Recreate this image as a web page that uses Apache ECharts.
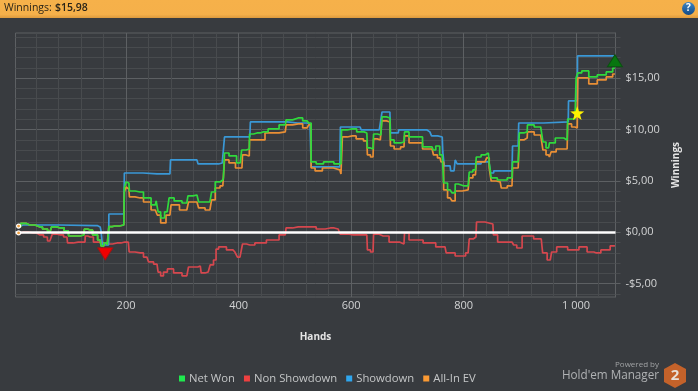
<!DOCTYPE html>
<html><head><meta charset="utf-8">
<style>html,body{margin:0;padding:0;background:#383b3f}#c{width:698px;height:391px}</style>
<script src="https://cdn.jsdelivr.net/npm/echarts@6/dist/echarts.min.js"></script>
</head><body><div id="c"></div>
<script>
const titleLabel = 'Winnings:';
const titleValue = '$15,98';
const seriesNames = ['Net Won','Non Showdown','Showdown','All-In EV'];
const startHands = [8,17,29,47,56,65,70,83,97,99,118,125,127,136,145,154,157,164,169,170,180,196];
const startValues = [0.52,0.86,0.71,0.52,0.32,0.08,0.52,0.42,0.13,-0.36,-0.36,-0.26,0.32,0.22,-0.26,-0.75,-1.33,-1.04,-1.24,0.55,0.61,0.71];
const netHands = [198,202,205,207,225,237,252,255,259,264,273,280,291,308,312,326,332,349,355,362,372,374,376,390,403,408,419,420,433,444,461,483,486,506,522,527,531,545,557,582,584,602,618,628,630,639,641,653,657,669,671,682,694,696,710,744,748,753,762,767,776,783,787,794,808,812,821,824,838,844,847,851,869,886,888,897,901,913,914,937,940,942,951,954,972,984,986,998,1002,1004,1016,1029,1046,1061,1069];
const netValues = [4.31,4.9,4.8,4.02,3.92,3.34,2.66,3.05,1.98,1.39,1.98,3.34,3.05,2.85,3.54,3.63,2.95,2.95,3.92,4.9,5.09,5.29,7.72,7.43,6.75,8.01,8.11,9.57,9.67,9.77,10.06,10.45,10.94,11.13,10.84,10.64,6.85,6.65,6.85,6.65,9.96,10.06,9.77,9.67,8.21,8.11,9.57,9.47,11.23,11.13,8.99,8.7,8.79,9.77,9.28,8.31,8.01,8.4,7.53,4.8,4.12,3.83,4.7,4.51,4.51,5.87,6.07,7.33,7.53,7.72,6.75,5.29,5.09,5.29,6.85,6.85,9.67,9.77,10.45,10.25,10.25,8.79,8.21,8.7,9.18,8.99,11.03,11.03,15.03,15.51,15.71,15.12,15.32,15.61,15.98];
const evHands = [198,202,205,207,225,237,252,259,264,278,282,308,314,326,332,349,355,362,372,374,376,390,399,406,408,419,420,433,461,483,486,506,522,527,531,541,557,580,584,585,602,616,628,630,639,641,652,657,669,671,682,694,696,710,744,749,758,762,767,776,783,787,808,812,821,824,838,844,847,851,865,869,886,888,897,901,913,914,937,940,942,951,954,957,972,984,986,998,1002,1004,1016,1029,1046,1061,1069];
const evValues = [3.92,4.41,4.22,3.44,3.34,2.95,2.17,1.68,0.91,1.68,2.66,2.17,2.95,2.95,2.37,2.17,3.15,4.31,4.51,4.51,7.04,6.75,6.26,6.26,7.53,7.43,8.99,8.99,9.67,9.77,10.45,10.55,10.16,10.45,6.26,5.97,6.26,6.07,5.68,9.28,9.38,9.09,8.89,7.53,7.33,9.09,8.99,10.84,10.74,8.4,8.11,8.31,9.38,8.7,8.11,7.53,7.24,6.85,4.12,3.34,3.05,4.02,4.12,5.29,5.58,6.85,6.85,7.24,6.26,4.99,4.9,4.31,4.51,6.26,6.26,8.99,9.18,9.77,9.47,9.47,8.01,7.53,7.33,7.82,8.11,8.11,10.55,10.25,10.16,15.03,15.03,14.44,14.83,15.12,15.41];
const showHands = [8,17,145,154,157,159,169,170,196,198,230,232,278,280,326,330,358,371,374,376,420,422,486,488,522,527,531,580,582,616,620,650,653,657,669,671,684,685,735,740,746,762,764,767,776,778,783,787,790,824,838,845,851,856,886,888,897,899,986,987,1002,1003,1069];
const showValues = [0.61,0.71,0.64,0.52,0.13,-1.24,-1.24,1.78,1.78,5.77,5.77,5.68,5.68,7.04,7.04,6.65,6.65,6.75,6.75,9.28,9.28,10.74,10.74,10.64,10.64,10.55,6.36,6.36,10.25,10.25,9.96,9.96,10.45,11.71,11.71,9.67,9.67,9.96,9.96,9.77,9.38,9.28,7.82,6.46,6.46,5.97,5.97,7.04,6.65,6.65,6.85,6.85,5.77,5.97,5.97,8.4,8.4,10.64,10.74,12.79,12.79,17.17,17.17];
const nonHands = [8,18,35,47,60,61,68,70,83,95,97,115,127,128,136,148,163,168,184,198,204,207,225,237,243,255,259,264,269,278,291,308,314,323,332,335,346,353,358,362,367,390,397,399,406,408,420,438,461,483,486,506,531,545,563,577,584,604,628,630,639,641,657,678,694,696,710,746,755,767,771,799,808,812,822,824,852,854,867,886,892,897,911,938,943,954,959,972,998,1012,1027,1036,1052,1069];
const nonValues = [-0.07,0.03,-0.07,-0.26,-0.46,-0.85,-0.75,-0.17,-0.26,-0.46,-1.04,-0.95,-0.95,-0.36,-0.46,-0.95,-1.04,-1.14,-1.04,-0.95,-0.95,-1.92,-2.01,-2.41,-2.89,-3.09,-3.87,-4.25,-3.87,-3.57,-3.96,-4.25,-3.38,-3.38,-3.28,-3.96,-3.87,-3.18,-2.7,-1.63,-1.43,-1.72,-1.92,-2.41,-2.41,-1.14,-1.24,-1.04,-0.75,-0.26,0.42,0.52,0.52,0.32,0.42,0.32,-0.17,-0.26,-0.26,-1.72,-1.92,-0.17,-0.36,-0.95,-1.14,-0.07,-0.75,-1.04,-1.43,-1.43,-2.01,-2.31,-2.01,-0.65,-0.46,1.0,0.81,-0.26,-0.95,-0.95,-1.24,-1.53,-0.36,-0.65,-2.01,-2.7,-1.92,-1.43,-1.72,-1.43,-1.92,-2.01,-1.72,-1.33];
const xMajor = [200,400,600,800,1000];
const xMinor = [40,80,120,160,240,280,320,360,440,480,520,560,640,680,720,760,840,880,920,960,1040];
const yMajor = [-5,0,5,10,15];
const yMinor = [-6,-4,-3,-2,-1,1,2,3,4,6,7,8,9,11,12,13,14,16,17,18,19];
const xTickLabels = {200:'200',400:'400',600:'600',800:'800',1000:'1 000'};
const yTickLabels = {'-5':'-$5,00',0:'$0,00',5:'$5,00',10:'$10,00',15:'$15,00'};
const worstPoint = [163,-2.1], bestPoint = [1069,16.7], starPoint = [1002,11.6];

const zip = (a,b)=>a.map((v,i)=>[v,b[i]]);
const font = 'Open Sans';
const colors = {g:'#2fd93c',r:'#d6474e',b:'#3a98d6',o:'#e98f35'};
const legendIcon = {'Net Won':'#1fe84e','Non Showdown':'#ee4040','Showdown':'#2fa6ee','All-In EV':'#fb9a33'};
const X_MIN=3.5,X_MAX=1070,Y_MIN=-6.3,Y_MAX=19.4;
const MAJOR='#5d6063',MINOR='#484b4e';

function line(name,hands,values,color,z,extra){
  return Object.assign({name,type:'line',data:zip(hands,values),symbol:'none',z,silent:true,step:'middle',
    lineStyle:{color,width:1.7},itemStyle:{color:legendIcon[name]}},extra||{});
}
const chart = echarts.init(document.getElementById('c'),null,{renderer:'canvas'});
chart.setOption({
  animation:false,
  backgroundColor:'#383b3f',
  textStyle:{fontFamily:font},
  grid:{show:true,left:15.5,top:33,width:600,height:264,borderColor:MAJOR,borderWidth:1,backgroundColor:'transparent'},
  legend:{data:seriesNames,left:174,top:368,itemWidth:6,itemHeight:6,itemGap:9,icon:'rect',
    textStyle:{color:'#c4c6c7',fontSize:11.3,fontFamily:font,padding:[0,0,0,-1]},selectedMode:false},
  xAxis:[
   {type:'value',min:X_MIN,max:X_MAX,name:'Hands',nameLocation:'middle',nameGap:35,
    nameTextStyle:{color:'#e4e4e4',fontSize:10,fontWeight:'bold',fontFamily:font},
    axisLine:{show:false,onZero:false},axisTick:{show:false,customValues:xMajor},
    axisLabel:{color:'#d2d3d4',fontSize:11,margin:3,customValues:xMajor,formatter:v=>xTickLabels[v]||''},
    splitLine:{show:true,lineStyle:{color:MAJOR,width:1}}},
   {type:'value',min:X_MIN,max:X_MAX,position:'bottom',
    axisLine:{show:false,onZero:false},axisTick:{show:false,customValues:xMinor},
    axisLabel:{show:false},splitLine:{show:true,lineStyle:{color:MINOR,width:1}}}
  ],
  yAxis:[
   {type:'value',position:'right',min:Y_MIN,max:Y_MAX,name:'Winnings',nameLocation:'middle',nameGap:52,nameRotate:90,
    nameTextStyle:{color:'#e4e4e4',fontSize:10,fontWeight:'bold',fontFamily:font},
    axisLine:{show:true,lineStyle:{color:MAJOR}},axisTick:{show:true,length:5,lineStyle:{color:MAJOR},customValues:yMajor},
    axisLabel:{color:'#d2d3d4',fontSize:11,margin:10,customValues:yMajor,formatter:v=>yTickLabels[v]||''},
    splitLine:{show:true,lineStyle:{color:MAJOR,width:1}}},
   {type:'value',position:'right',min:Y_MIN,max:Y_MAX,
    axisLine:{show:false},axisTick:{show:true,length:5,lineStyle:{color:MINOR},customValues:yMinor},
    axisLabel:{show:false},splitLine:{show:true,lineStyle:{color:MINOR,width:1}}}
  ],
  series:[
    line('Non Showdown',nonHands,nonValues,colors.r,3,{
      markLine:{silent:true,symbol:'none',label:{show:false},z:9,animation:false,
        lineStyle:{color:'#ffffff',width:2.5,type:'solid'},data:[{yAxis:0}]}}),
    line('Showdown',showHands,showValues,colors.b,4),
    line('All-In EV',startHands.concat(evHands),startValues.concat(evValues),colors.o,5),
    line('Net Won',startHands.concat(netHands),startValues.concat(netValues),colors.g,6,{
      markPoint:{silent:true,z:12,animation:false,label:{show:false},data:[
        {coord:worstPoint,symbol:'triangle',symbolRotate:180,symbolSize:[15,12],itemStyle:{color:'#f00000',borderColor:'#a81010',borderWidth:1}},
        {coord:bestPoint,symbol:'triangle',symbolSize:[15,12],itemStyle:{color:'#07760f',borderColor:'#0c5012',borderWidth:1}},
        {coord:starPoint,symbol:'path://M50 0 L62 35 L100 38 L70 60 L81 97 L50 76 L19 97 L30 60 L0 38 L38 35 Z',symbolSize:[14,14],itemStyle:{color:'#fff200'}},
        {coord:[9,0.6],symbol:'circle',symbolSize:4,itemStyle:{color:'#f0a040',borderColor:'#ffffff',borderWidth:1.2}},
        {coord:[9,-0.06],symbol:'circle',symbolSize:4,itemStyle:{color:'#f0a040',borderColor:'#ffffff',borderWidth:1.2}}
      ]}})
  ],
  graphic:[
    {type:'rect',z:50,shape:{x:0,y:0,width:698,height:18},style:{fill:new echarts.graphic.LinearGradient(0,0,0,1,[{offset:0,color:'#f6b14a'},{offset:0.8,color:'#f5b04a'},{offset:1,color:'#dc9a3e'}])}},
    {type:'text',z:51,x:4,y:3,style:{text:titleLabel,fill:'#2a2418',font:'10.5px "Open Sans"'}},
    {type:'text',z:51,x:55,y:3,style:{text:titleValue,fill:'#2a2418',font:'600 10.5px "Open Sans"'}},
    {type:'circle',z:51,shape:{cx:688.5,cy:8.5,r:6.5},style:{fill:new echarts.graphic.LinearGradient(0,0,0,1,[{offset:0,color:'#3f86c4'},{offset:1,color:'#124a86'}])}},
    {type:'text',z:52,x:688.5,y:3,style:{text:'?',fill:'#ffffff',font:'bold 10px "Open Sans"',align:'center'}},
    {type:'text',z:51,x:659,y:361,style:{text:'Powered by',fill:'#a0a2a4',font:'8px "Open Sans"',align:'right'}},
    {type:'text',z:51,x:659,y:370,style:{text:"Hold'em Manager",fill:'#b0b2b4',font:'11.7px "Open Sans"',align:'right'}},
    {type:'polygon',z:51,shape:{points:[[675,363],[686,369],[686,382],[675,388],[664,382],[664,369]]},style:{fill:'#c4622a'}},
    {type:'text',z:52,x:675,y:368,style:{text:'2',fill:'#e8e0d8',font:'bold 15px "Open Sans"',align:'center'}}
  ]
});
</script></body></html>
